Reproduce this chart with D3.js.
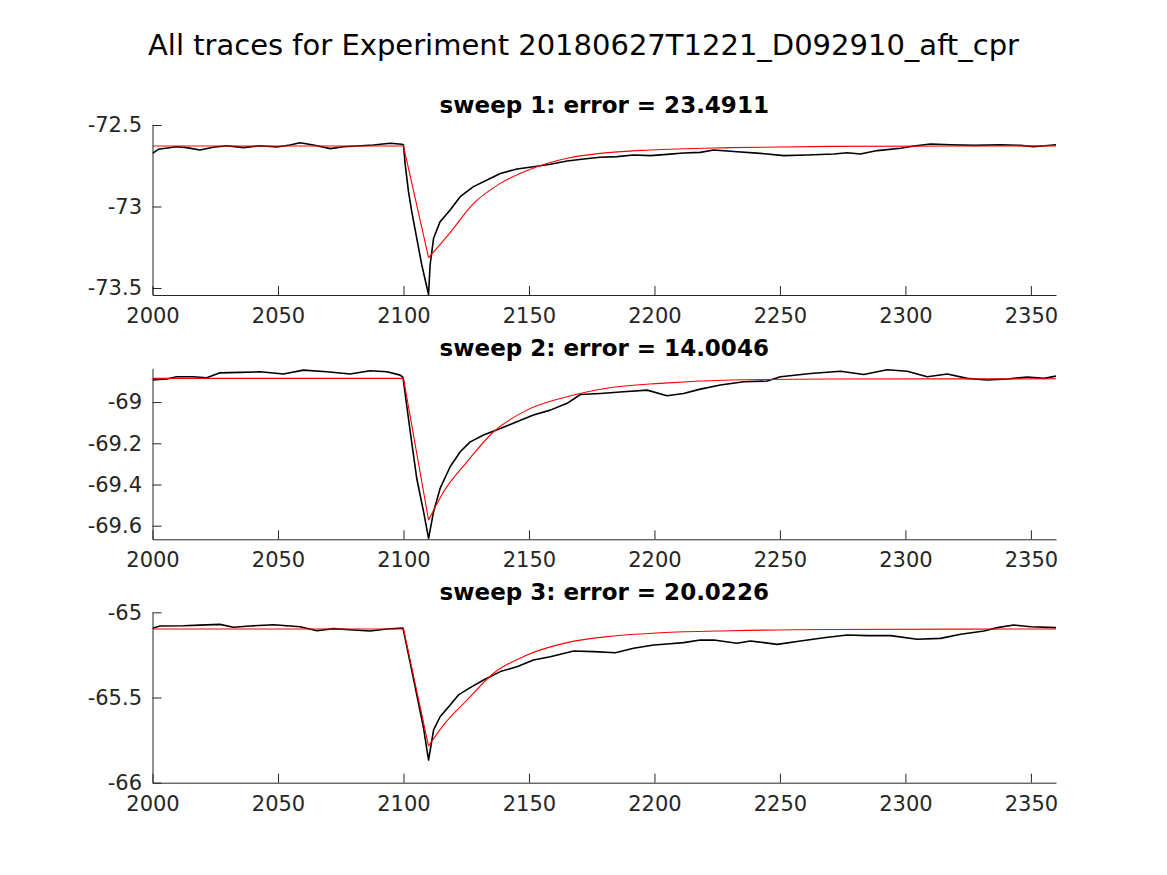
<!DOCTYPE html>
<html><head><meta charset="utf-8">
<script src="https://cdn.jsdelivr.net/npm/d3@7"></script>
<style>body{margin:0;background:#fff} svg{display:block}</style>
</head><body>
<script>
// ---------- data ----------
const mainTitle = "All traces for Experiment 20180627T1221_D092910_aft_cpr";
const sweepTitles = ["sweep 1: error = 23.4911", "sweep 2: error = 14.0046", "sweep 3: error = 20.0226"];
const xTicks = [2000, 2050, 2100, 2150, 2200, 2250, 2300, 2350];
const xTickLabels = ["2000", "2050", "2100", "2150", "2200", "2250", "2300", "2350"];
const yTicks1 = [-73.5, -73, -72.5];
const yTickLabels1 = ["-73.5", "-73", "-72.5"];
const yTicks2 = [-69.6, -69.4, -69.2, -69];
const yTickLabels2 = ["-69.6", "-69.4", "-69.2", "-69"];
const yTicks3 = [-66, -65.5, -65];
const yTickLabels3 = ["-66", "-65.5", "-65"];
const xRange = [2000, 2360];
const yRange1 = [-73.543, -72.5];
const yRange2 = [-69.666, -68.836];
const yRange3 = [-66, -65];

const trace1 = [[2000,-72.674],[2002.3,-72.649],[2009.6,-72.633],[2013.6,-72.639],[2018.9,-72.653],[2024.2,-72.637],[2029.6,-72.627],[2036.2,-72.639],[2042.9,-72.627],[2049.5,-72.635],[2054.8,-72.623],[2058.8,-72.609],[2064.1,-72.623],[2070.8,-72.645],[2076.1,-72.633],[2081.4,-72.629],[2088,-72.623],[2094.7,-72.612],[2099.4,-72.618],[2100,-72.623],[2100.7,-72.745],[2102,-72.909],[2103.3,-73.032],[2105.3,-73.195],[2107.3,-73.359],[2110,-73.54],[2110.6,-73.359],[2112,-73.195],[2114.6,-73.093],[2118.6,-73.021],[2122.6,-72.94],[2127.9,-72.878],[2133.3,-72.837],[2138.6,-72.797],[2145.2,-72.77],[2151.8,-72.756],[2158.5,-72.741],[2165.2,-72.721],[2171.8,-72.709],[2178.4,-72.698],[2185.1,-72.694],[2191.7,-72.684],[2198.4,-72.688],[2205,-72.68],[2211.6,-72.672],[2218.3,-72.668],[2223.6,-72.653],[2231.6,-72.663],[2242.2,-72.674],[2251.5,-72.688],[2260.8,-72.684],[2271.5,-72.678],[2276.8,-72.67],[2282.1,-72.678],[2288.8,-72.657],[2298.1,-72.643],[2303.4,-72.629],[2310,-72.617],[2318,-72.621],[2327.3,-72.625],[2337.9,-72.621],[2345.9,-72.625],[2351.2,-72.633],[2360,-72.621]];
const fit1 = [[2000,-72.629],[2100,-72.629],[2110,-73.314],[2118.6,-73.16],[2127.3,-72.991],[2138.6,-72.858],[2149.8,-72.776],[2165.2,-72.704],[2178.4,-72.674],[2198.4,-72.653],[2230.3,-72.639],[2270,-72.631],[2360,-72.628]];

const trace2 = [[2000,-68.893],[2005.7,-68.888],[2009.6,-68.877],[2016.3,-68.877],[2021.6,-68.882],[2026.9,-68.858],[2034.9,-68.856],[2042.9,-68.853],[2052.2,-68.864],[2060.1,-68.845],[2069.5,-68.853],[2078.7,-68.864],[2086.7,-68.848],[2093.4,-68.853],[2098.7,-68.869],[2099.8,-68.88],[2102.7,-69.144],[2105.3,-69.371],[2108,-69.532],[2110,-69.662],[2112,-69.532],[2114.6,-69.419],[2118.6,-69.314],[2122.6,-69.241],[2126.6,-69.193],[2131.9,-69.16],[2138.6,-69.128],[2145.2,-69.096],[2151.8,-69.063],[2158.5,-69.039],[2165.2,-69.006],[2170.5,-68.963],[2178.4,-68.958],[2187.7,-68.95],[2197.1,-68.942],[2205,-68.969],[2211.6,-68.958],[2218.3,-68.937],[2226.3,-68.917],[2235.6,-68.901],[2244.9,-68.898],[2250.2,-68.877],[2262.2,-68.861],[2274.1,-68.85],[2283.4,-68.866],[2292.7,-68.843],[2300.7,-68.85],[2308.7,-68.877],[2316.7,-68.864],[2324.6,-68.885],[2332.6,-68.893],[2340.6,-68.888],[2348.6,-68.878],[2355.2,-68.885],[2360,-68.874]];
const fit2 = [[2000,-68.885],[2100,-68.885],[2110,-69.573],[2116,-69.435],[2125.3,-69.29],[2135.9,-69.144],[2149.2,-69.039],[2165.2,-68.974],[2181.1,-68.933],[2202.4,-68.909],[2230.3,-68.893],[2270,-68.888],[2360,-68.887]];

const trace3 = [[2000,-65.094],[2003,-65.08],[2012.3,-65.079],[2018.9,-65.075],[2026.9,-65.071],[2032.2,-65.088],[2038.9,-65.08],[2048.2,-65.073],[2058.8,-65.085],[2065.5,-65.108],[2072.1,-65.096],[2080.1,-65.104],[2086.7,-65.11],[2093.4,-65.098],[2099.8,-65.092],[2104,-65.39],[2108,-65.68],[2110,-65.867],[2112,-65.69],[2114.6,-65.613],[2118.6,-65.544],[2121.9,-65.485],[2126.6,-65.442],[2131.9,-65.397],[2138.6,-65.348],[2145.2,-65.319],[2151.8,-65.28],[2158.5,-65.261],[2167.8,-65.227],[2175.8,-65.231],[2184.4,-65.237],[2191.7,-65.211],[2199.7,-65.192],[2205,-65.186],[2211.6,-65.178],[2218.3,-65.163],[2223.6,-65.163],[2232.9,-65.182],[2238.2,-65.168],[2248.9,-65.188],[2258.2,-65.168],[2267.5,-65.149],[2276.8,-65.133],[2284.8,-65.137],[2294.1,-65.137],[2304.7,-65.158],[2314,-65.153],[2322,-65.129],[2331.3,-65.11],[2336.6,-65.09],[2343.2,-65.075],[2349.9,-65.085],[2360,-65.09]];
const fit3 = [[2000,-65.098],[2100,-65.098],[2110,-65.785],[2116,-65.661],[2125.3,-65.515],[2135.9,-65.358],[2149.2,-65.251],[2165.2,-65.178],[2181.1,-65.143],[2202.4,-65.12],[2230.3,-65.108],[2270,-65.101],[2360,-65.098]];

// ---------- layout ----------
const W = 1167, H = 875;
const left = 152.5, right = 1056;
const panels = [
  {top: 125, bottom: 295, yDomain: yRange1, ticks: yTicks1, labels: yTickLabels1, trace: trace1, fit: fit1, title: sweepTitles[0]},
  {top: 368.3, bottom: 539.3, yDomain: yRange2, ticks: yTicks2, labels: yTickLabels2, trace: trace2, fit: fit2, title: sweepTitles[1]},
  {top: 612.3, bottom: 782.7, yDomain: yRange3, ticks: yTicks3, labels: yTickLabels3, trace: trace3, fit: fit3, title: sweepTitles[2]}
];
const axisColor = "#262626";
const font = "DejaVu Sans, sans-serif";

const svg = d3.select("body").append("svg").attr("width", W).attr("height", H);
svg.append("rect").attr("width", W).attr("height", H).attr("fill", "#fff");

svg.append("text").attr("x", 583.5).attr("y", 55).attr("text-anchor", "middle")
  .attr("font-family", font).attr("font-size", 29).attr("fill", "#000").text(mainTitle);

const x = d3.scaleLinear().domain(xRange).range([left, right]);

panels.forEach(p => {
  const y = d3.scaleLinear().domain(p.yDomain).range([p.bottom, p.top]);
  const g = svg.append("g");

  const clipId = "clip" + Math.round(p.top);
  svg.append("clipPath").attr("id", clipId).append("rect")
    .attr("x", left).attr("y", p.top - 2).attr("width", right - left).attr("height", p.bottom - p.top + 4);

  const plot = g.append("g").attr("clip-path", `url(#${clipId})`);
  const lin = d3.line().x(d => x(d[0])).y(d => y(d[1]));
  const mono = d3.line().x(d => x(d[0])).y(d => y(d[1])).curve(d3.curveMonotoneX);

  plot.append("path").datum(p.trace).attr("d", lin)
    .attr("fill", "none").attr("stroke", "#000").attr("stroke-width", 1.6).attr("stroke-linejoin", "round");

  const mi = d3.minIndex(p.fit, d => d[1]);
  plot.append("path").datum(p.fit.slice(0, mi + 1)).attr("d", lin)
    .attr("fill", "none").attr("stroke", "#ff0000").attr("stroke-width", 1.1);
  plot.append("path").datum(p.fit.slice(mi)).attr("d", mono)
    .attr("fill", "none").attr("stroke", "#ff0000").attr("stroke-width", 1.1);

  // x axis
  const xa = g.append("g").attr("transform", `translate(0,${p.bottom})`)
    .call(d3.axisBottom(x).tickValues(xTicks).tickFormat((d, i) => xTickLabels[i])
      .tickSizeInner(-9).tickSizeOuter(0).tickPadding(13));
  // y axis
  const ya = g.append("g").attr("transform", `translate(${left},0)`)
    .call(d3.axisLeft(y).tickValues(p.ticks).tickFormat((d, i) => p.labels[i])
      .tickSizeInner(-9).tickSizeOuter(0).tickPadding(10.5));
  [xa, ya].forEach(a => {
    a.select(".domain").attr("stroke", axisColor).attr("stroke-width", 1);
    a.selectAll(".tick line").attr("stroke", axisColor).attr("stroke-width", 1);
    a.selectAll(".tick text").attr("fill", axisColor).attr("font-family", font).attr("font-size", 21);
  });

  g.append("text").attr("x", (left + right) / 2).attr("y", p.top - 12)
    .attr("text-anchor", "middle").attr("font-family", font).attr("font-weight", "bold")
    .attr("font-size", 23).attr("fill", "#000").text(p.title);
});
</script>
</body></html>
